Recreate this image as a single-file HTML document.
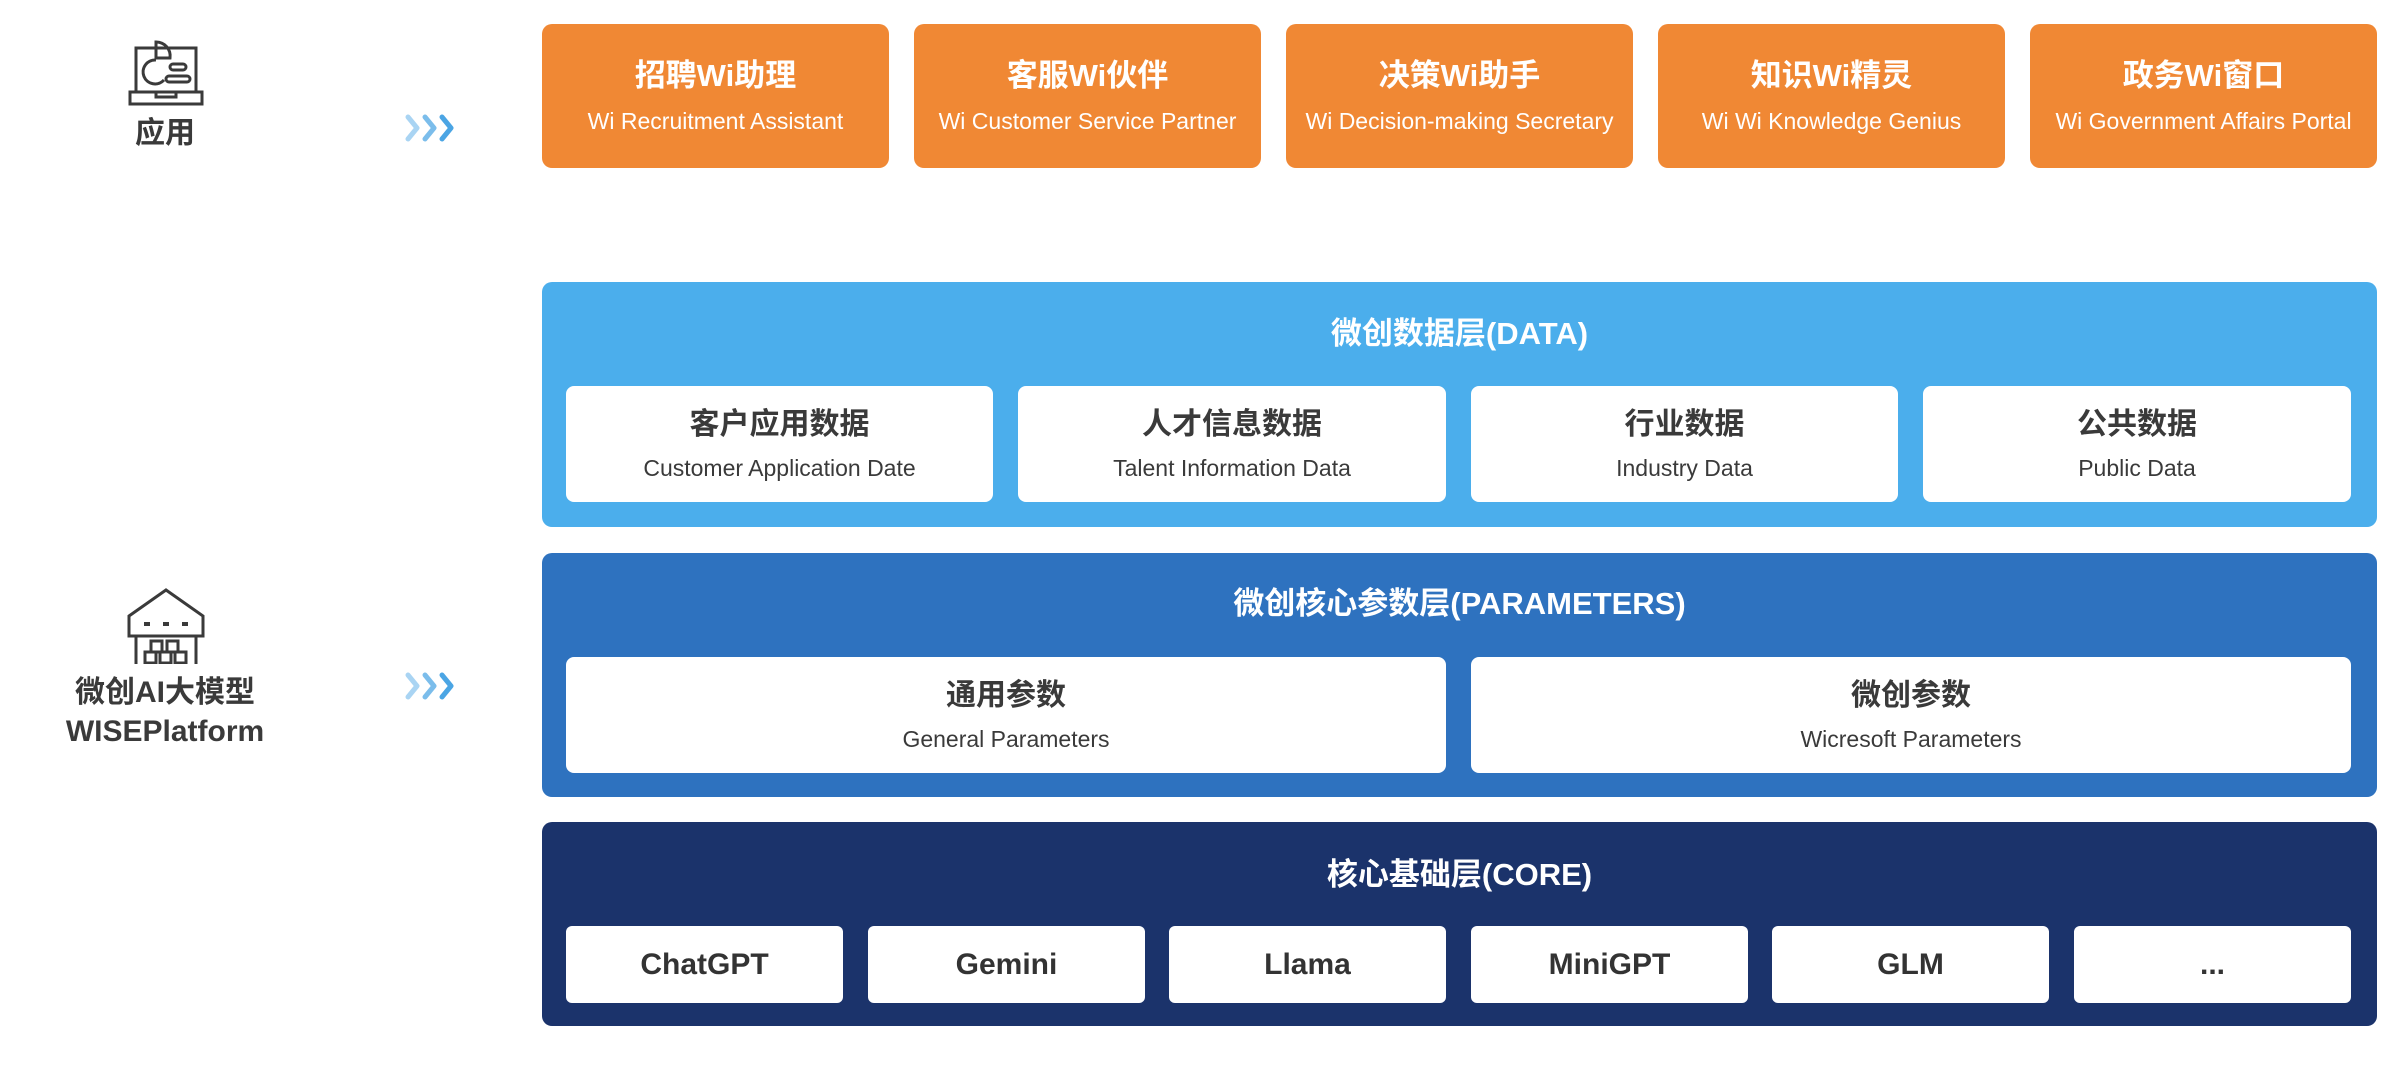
<!DOCTYPE html>
<html><head><meta charset="utf-8"><style>
*{margin:0;padding:0;box-sizing:border-box}
body{width:2400px;height:1082px;background:#fff;position:relative;overflow:hidden;font-family:"Liberation Sans","Noto Sans CJK SC",sans-serif;color:#3a3a3a}
.a{position:absolute}
.box{position:absolute;display:flex;flex-direction:column;align-items:center;justify-content:center;border-radius:10px;text-align:center}
.or{background:#F08834;color:#fff;width:347px;top:24px;height:144px}
.or b{font-size:31px;font-weight:bold;line-height:40px}
.or span{font-size:23px;line-height:30px;margin-top:10px;white-space:nowrap}
.layer{position:absolute;left:542px;width:1835px;border-radius:10px}
.lt{position:absolute;left:0;width:100%;text-align:center;color:#fff;font-size:31px;font-weight:bold}
.wc{background:#fff;border-radius:8px}
.wc b{font-size:30px;font-weight:bold;line-height:40px}
.wc span{font-size:23px;line-height:30px;margin-top:8px}
.cc{background:#fff;border-radius:6px;top:926px;height:77px;width:277px;font-size:30px;font-weight:bold;color:#333}
.lbl{position:absolute;width:330px;left:0;text-align:center;font-size:30px;font-weight:bold;color:#3a3a3a;line-height:39px}
</style></head><body>

<svg class="a" style="left:128px;top:38px" width="76" height="68" viewBox="0 0 76 68" fill="none" stroke="#3a3a3a" stroke-width="3">
<rect x="8" y="10" width="60" height="44"/>
<path d="M2 54h72v12H2z"/><path d="M28 54v5h20v-5"/>
<path d="M28 22a12 12 0 1 0 8 20"/><path d="M28 4v16h14a14 14 0 0 0-14-16z"/>
<rect x="42" y="26" width="16" height="6" rx="3"/><rect x="38" y="38" width="24" height="6" rx="3"/>
</svg>
<div class="lbl" style="top:114px">应用</div>

<svg class="a" style="left:126px;top:588px" width="80" height="76" viewBox="0 0 80 76" fill="none" stroke="#3a3a3a" stroke-width="3">
<path d="M3 28L40 2l37 26v20H3z"/><path d="M10 48v28M70 48v28"/>
<path d="M18 36h6M37 36h6M56 36h6" stroke-width="4"/>
<rect x="25" y="53" width="11" height="11"/><rect x="41" y="53" width="11" height="11"/>
<rect x="19" y="64" width="11" height="11"/><rect x="34" y="64" width="11" height="11"/><rect x="49" y="64" width="11" height="11"/>
</svg>
<div class="lbl" style="top:673px">微创AI大模型<br>WISEPlatform</div>

<svg class="a" style="left:403px;top:112px" width="56" height="32" viewBox="0 0 56 32" fill="none" stroke-width="5" stroke-linecap="round" stroke-linejoin="round">
<path d="M5 5l9 11-9 11" stroke="#A9D4F3"/><path d="M22 5l9 11-9 11" stroke="#7BBDEB"/><path d="M39 5l9 11-9 11" stroke="#4BA5E4"/>
</svg>
<svg class="a" style="left:403px;top:670px" width="56" height="32" viewBox="0 0 56 32" fill="none" stroke-width="5" stroke-linecap="round" stroke-linejoin="round">
<path d="M5 5l9 11-9 11" stroke="#A9D4F3"/><path d="M22 5l9 11-9 11" stroke="#7BBDEB"/><path d="M39 5l9 11-9 11" stroke="#4BA5E4"/>
</svg>

<div class="box or" style="left:542px"><b>招聘Wi助理</b><span>Wi Recruitment Assistant</span></div>
<div class="box or" style="left:914px"><b>客服Wi伙伴</b><span>Wi Customer Service Partner</span></div>
<div class="box or" style="left:1286px"><b>决策Wi助手</b><span>Wi Decision-making Secretary</span></div>
<div class="box or" style="left:1658px"><b>知识Wi精灵</b><span>Wi Wi Knowledge Genius</span></div>
<div class="box or" style="left:2030px"><b>政务Wi窗口</b><span>Wi Government Affairs Portal</span></div>

<div class="layer" style="top:282px;height:245px;background:#4BAEEC">
<div class="lt" style="top:26px">微创数据层(DATA)</div>
</div>
<div class="box wc" style="left:566px;top:386px;width:427px;height:116px"><b>客户应用数据</b><span>Customer Application Date</span></div>
<div class="box wc" style="left:1018px;top:386px;width:428px;height:116px"><b>人才信息数据</b><span>Talent Information Data</span></div>
<div class="box wc" style="left:1471px;top:386px;width:427px;height:116px"><b>行业数据</b><span>Industry Data</span></div>
<div class="box wc" style="left:1923px;top:386px;width:428px;height:116px"><b>公共数据</b><span>Public Data</span></div>

<div class="layer" style="top:553px;height:244px;background:#2E72BF">
<div class="lt" style="top:25px">微创核心参数层(PARAMETERS)</div>
</div>
<div class="box wc" style="left:566px;top:657px;width:880px;height:116px"><b>通用参数</b><span>General Parameters</span></div>
<div class="box wc" style="left:1471px;top:657px;width:880px;height:116px"><b>微创参数</b><span>Wicresoft Parameters</span></div>

<div class="layer" style="top:822px;height:204px;background:#1B336B">
<div class="lt" style="top:27px">核心基础层(CORE)</div>
</div>
<div class="box cc" style="left:566px">ChatGPT</div>
<div class="box cc" style="left:868px">Gemini</div>
<div class="box cc" style="left:1169px">Llama</div>
<div class="box cc" style="left:1471px">MiniGPT</div>
<div class="box cc" style="left:1772px">GLM</div>
<div class="box cc" style="left:2074px">...</div>

</body></html>
